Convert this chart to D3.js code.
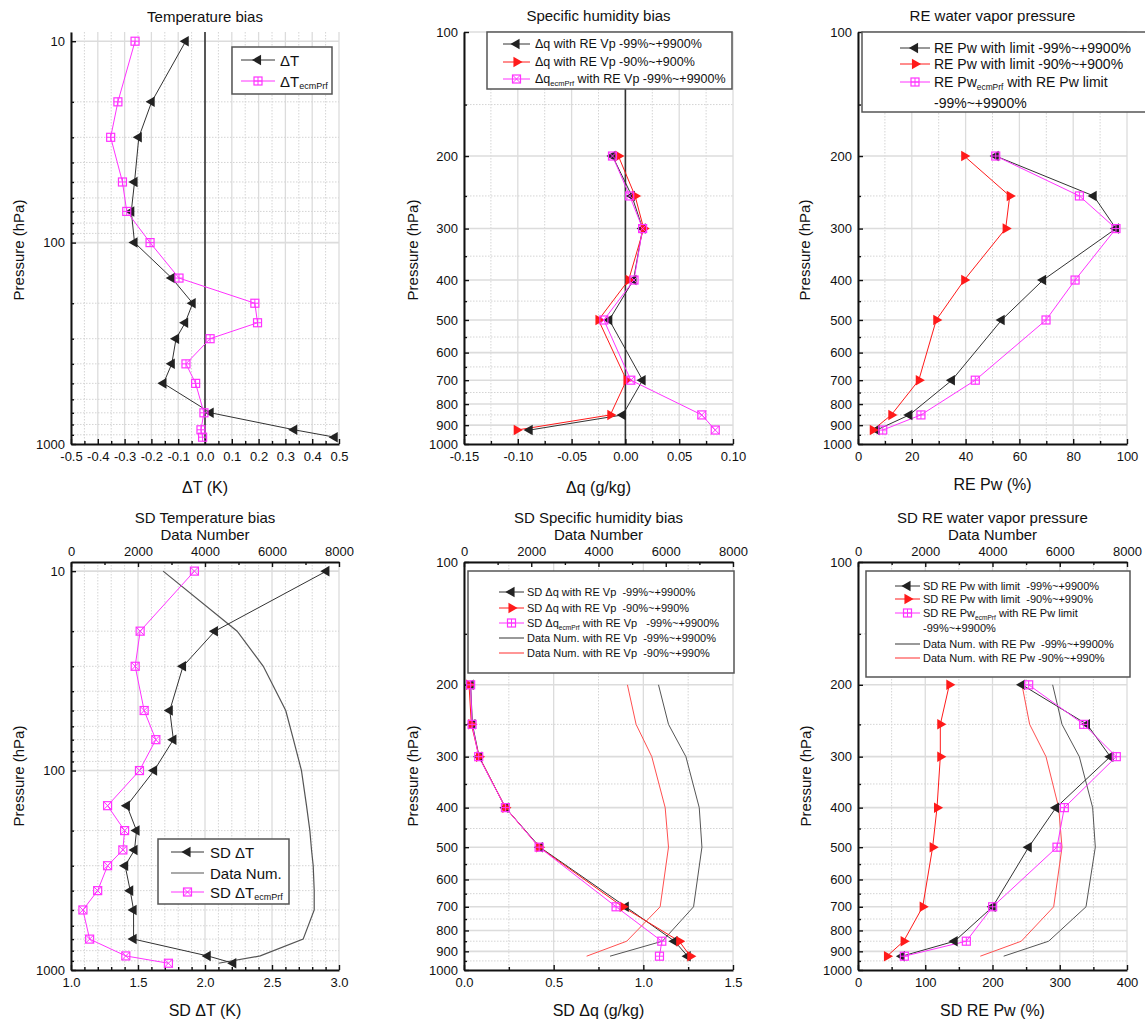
<!DOCTYPE html>
<html>
<head>
<meta charset="utf-8">
<script src="https://cdn.jsdelivr.net/npm/d3@7"></script>
<style>
body{margin:0;background:white}
svg{font-family:"Liberation Sans",Arial,sans-serif}
</style>
</head>
<body>
<svg width="1145" height="1029"></svg>
<script>
// pressure levels (hPa)
var levT = [10,20,30,50,70,100,150,200,250,300,400,500,700,850,925]
var levQ = [200,250,300,400,500,700,850,925]

// top row: biases
var dT    = [-0.072,-0.199,-0.247,-0.263,-0.275,-0.263,-0.124,-0.046,-0.074,-0.108,-0.124,-0.155,0.021,0.333,0.484]
var dTecm = [-0.261,-0.325,-0.352,-0.308,-0.292,-0.205,-0.097,0.186,0.196,0.019,-0.071,-0.035,-0.004,-0.015,-0.009]

var dq99  = [-0.012,0.006,0.016,0.0075,-0.015,0.016,-0.0025,-0.089]
var dq90  = [-0.0065,0.009,0.017,0.003,-0.025,0.001,-0.014,-0.101]
var dqEcm = [-0.012,0.004,0.016,0.008,-0.020,0.005,0.071,0.0835]

var pw99  = [51.2,87.6,95.9,68.8,53.4,34.9,19.1,6.9]
var pw90  = [39.5,56.4,54.9,39.5,29.1,22.6,12.4,5.5]
var pwEcm = [51.2,82.3,95.9,80.7,69.9,43.6,23.4,9.2]

// bottom row: standard deviations + data numbers
var sdT    = [2.906,2.074,1.836,1.737,1.764,1.620,1.417,1.489,1.474,1.404,1.442,1.467,1.467,2.020,2.211]
var sdTecm = [1.921,1.516,1.479,1.546,1.633,1.511,1.273,1.400,1.387,1.273,1.199,1.089,1.139,1.409,1.727]
var numT   = [2750,4960,5740,6410,6640,6880,7030,7130,7180,7230,7260,7260,6930,5650,4400]

var sdq99  = [0.037,0.047,0.084,0.231,0.423,0.902,1.174,1.247]
var sdq90  = [0.028,0.041,0.084,0.231,0.419,0.885,1.200,1.262]
var sdqEcm = [0.037,0.045,0.082,0.231,0.419,0.848,1.103,1.090]
var numQ99 = [5784,6082,6599,6996,7076,6827,5900,4343]
var numQ90 = [4860,5118,5585,5983,6082,5833,4840,3647]

var sdPw99  = [243.9,340.5,375.2,294.4,253.8,200.2,143.7,65.4]
var sdPw90  = [135.8,122.4,122.4,117.5,111.0,96.2,67.9,43.1]
var sdPwEcm = [253.8,335.6,384.1,306.8,295.9,200.2,161.1,68.9]
var numPw99 = [5789,6067,6582,6979,7058,6781,5670,4332]
var numPw90 = [4877,5105,5591,5968,6067,5819,4857,3638]

// tick labels
var xTickA = [-0.5,-0.4,-0.3,-0.2,-0.1,0,0.1,0.2,0.3,0.4,0.5]
var xTickB = [-0.15,-0.10,-0.05,0,0.05,0.10]
var xTickC = [0,20,40,60,80,100]
var xTickD = [1.0,1.5,2.0,2.5,3.0]
var xTickE = [0,0.5,1.0,1.5]
var xTickF = [0,100,200,300,400]
var numTicks = [0,2000,4000,6000,8000]
var yTickLong = [10,100,1000]
var yTickShort = [100,200,300,400,500,600,700,800,900,1000]

var svg = d3.select("svg")

var BLACK = "#222", RED = "#ff1a1a", PINK = "#ff33ff"

var logMinor = function(lo, hi) {
    var out = []
    ;[10,100].forEach(function(dec){
        for (var k = 2; k <= 9; k++) { var v = k*dec; if (v > lo && v < hi) out.push(v) }
    })
    return out
}
var halfMinor = d3.range(150, 1000, 100)

var stepList = function(a, b, s) {
    var out = []
    var n = Math.round((b-a)/s)
    for (var i = 0; i <= n; i++) out.push(+(a + i*s).toFixed(6))
    return out
}

var richText = function(t, str, fs) {
    var parts = str.split(/_\{|\}/)
    parts.forEach(function(s, i){
        if (s === "") return
        var ts = t.append("tspan").text(s)
        if (i % 2 == 1) ts.attr("font-size", fs*0.6).attr("dy", fs*0.35)
        else if (i > 0) ts.attr("dy", -fs*0.35)
    })
}

var drawMarker = function(g, type, cx, cy, color) {
    if (type == "left" || type == "right") {
        g.append("path")
         .attr("d", d3.symbol(d3.symbolTriangle, 48)())
         .attr("transform", "translate("+cx+","+cy+") rotate("+(type=="left" ? -90 : 90)+")")
         .attr("fill", color)
    }
    else if (type == "plus" || type == "cross") {
        var s = 4
        g.append("rect").attr("x", cx-s).attr("y", cy-s).attr("width", 2*s).attr("height", 2*s)
         .attr("fill", "none").attr("stroke", color).attr("stroke-width", 1.2)
        var segs = type == "plus" ? [[cx-s,cy,cx+s,cy],[cx,cy-s,cx,cy+s]] : [[cx-s,cy-s,cx+s,cy+s],[cx-s,cy+s,cx+s,cy-s]]
        segs.forEach(function(q){
            g.append("line").attr("x1",q[0]).attr("y1",q[1]).attr("x2",q[2]).attr("y2",q[3])
             .attr("stroke", color).attr("stroke-width", 1)
        })
    }
}

var drawPanel = function(p)
{
    var g = svg.append("g")
    var x = d3.scaleLinear().domain(p.xDom).range([p.left, p.right])
    var y = d3.scaleLog().domain(p.yDom).range([p.top, p.bottom])
    var xTop = d3.scaleLinear().domain([0,8000]).range([p.left, p.right])

    // grid
    var grid = g.append("g")
    grid.selectAll(".gvm").data(p.xMinor).enter().append("line")
        .attr("x1", function(d){return x(d)}).attr("x2", function(d){return x(d)})
        .attr("y1", p.top).attr("y2", p.bottom)
        .attr("stroke", "#d4d4d4").attr("stroke-dasharray", "1.5,1.5")
    grid.selectAll(".gvM").data(p.xTicks).enter().append("line")
        .attr("x1", function(d){return x(d)}).attr("x2", function(d){return x(d)})
        .attr("y1", p.top).attr("y2", p.bottom)
        .attr("stroke", "#dcdcdc").attr("stroke-width", 1.3)
    grid.selectAll(".ghm").data(p.yMinor).enter().append("line")
        .attr("y1", function(d){return y(d)}).attr("y2", function(d){return y(d)})
        .attr("x1", p.left).attr("x2", p.right)
        .attr("stroke", "#d4d4d4").attr("stroke-dasharray", "1.5,1.5")
    grid.selectAll(".ghM").data(p.yTicks.slice(0, -1)).enter().append("line")
        .attr("y1", function(d){return y(d)}).attr("y2", function(d){return y(d)})
        .attr("x1", p.left).attr("x2", p.right)
        .attr("stroke", "#dcdcdc").attr("stroke-width", 1.6)

    if (p.zeroLine) {
        g.append("line").attr("x1", x(0)).attr("x2", x(0)).attr("y1", p.top).attr("y2", p.bottom)
         .attr("stroke", "#333").attr("stroke-width", 1.6)
    }

    // axes
    var ax = g.append("g").attr("transform", "translate(0,"+p.bottom+")")
        .call(d3.axisBottom(x).tickValues(p.xTicks).tickFormat(p.xFmt).tickSizeInner(-5).tickSizeOuter(0).tickPadding(8))
    g.append("g").attr("transform", "translate(0,"+p.bottom+")")
        .call(d3.axisBottom(x).tickValues(p.xMinor).tickFormat("").tickSizeInner(-3).tickSizeOuter(0))
        .select(".domain").remove()
    var ay = g.append("g").attr("transform", "translate("+p.left+",0)")
        .call(d3.axisLeft(y).tickValues(p.yTicks).tickFormat(d3.format("d")).tickSizeInner(-5).tickSizeOuter(0).tickPadding(6))
    g.append("g").attr("transform", "translate("+p.left+",0)")
        .call(d3.axisLeft(y).tickValues(p.yMinor).tickFormat("").tickSizeInner(-3).tickSizeOuter(0))
        .select(".domain").remove()
    if (p.topAxis) {
        g.append("g").attr("transform", "translate(0,"+p.top+")")
         .call(d3.axisTop(xTop).tickValues(numTicks).tickFormat(d3.format("d")).tickSizeInner(-5).tickSizeOuter(0).tickPadding(6))
        g.append("g").attr("transform", "translate(0,"+p.top+")")
         .call(d3.axisTop(xTop).tickValues([1000,3000,5000,7000]).tickFormat("").tickSizeInner(-3).tickSizeOuter(0))
         .select(".domain").remove()
    }
    g.selectAll(".domain").attr("stroke", "#111").attr("stroke-width", 2)
    g.selectAll(".tick line").attr("stroke", "#111").attr("stroke-width", 1.4)
    g.selectAll(".tick text").attr("font-size", 13).attr("fill", "#111").attr("font-family", "Liberation Sans, Arial, sans-serif")

    // series lines then markers
    p.series.forEach(function(s){
        var xs = s.top ? xTop : x
        var line = d3.line()
            .x(function(v){return xs(v)})
            .y(function(v,i){return y(s.lev[i])})
        g.append("path").datum(s.vals)
         .attr("d", line).attr("fill", "none")
         .attr("stroke", s.lineColor).attr("stroke-width", s.width || 1)
    })
    p.series.forEach(function(s){
        if (!s.marker) return
        var mg = g.append("g")
        s.vals.forEach(function(v,i){ drawMarker(mg, s.marker, x(v), y(s.lev[i]), s.color) })
    })

    // titles
    p.title.forEach(function(t, i){
        svg.append("text").attr("x", (p.left+p.right)/2 + (p.titleDx || 0)).attr("y", p.titleY + i*17)
           .attr("text-anchor", "middle").attr("dominant-baseline", "central")
           .attr("font-size", 15).attr("fill", "#111").text(t)
    })
    var xl = svg.append("text").attr("x", (p.left+p.right)/2 + (p.titleDx || 0)).attr("y", p.xLabelY)
        .attr("text-anchor", "middle").attr("dominant-baseline", "central")
        .attr("font-size", 16).attr("fill", "#111")
    richText(xl, p.xLabel, 16)
    svg.append("text").attr("transform", "translate("+p.yLabelX+","+((p.top+p.bottom)/2+ (p.yLabelDy||0))+") rotate(-90)")
        .attr("text-anchor", "middle").attr("dominant-baseline", "central")
        .attr("font-size", 15).attr("fill", "#111").text("Pressure (hPa)")

    // legend
    var L = p.legend
    var lg = svg.append("g")
    lg.append("rect").attr("x", L.x).attr("y", L.y).attr("width", L.w).attr("height", L.h)
      .attr("fill", "white").attr("stroke", "#555").attr("stroke-width", 1.5)
    L.items.forEach(function(it, i){
        var yy = L.rows[i]
        if (it.color) {
            lg.append("line").attr("x1", L.sx1).attr("x2", L.sx2).attr("y1", yy).attr("y2", yy)
              .attr("stroke", it.color).attr("stroke-width", it.marker ? 1 : 1.2)
            if (it.marker) drawMarker(lg, it.marker, (L.sx1+L.sx2)/2, yy, it.mcolor || it.color)
        }
        var t = lg.append("text").attr("x", L.tx).attr("y", yy)
            .attr("dominant-baseline", "central").attr("font-size", L.fs)
            .attr("fill", "#111").style("white-space", "pre")
        richText(t, it.label, L.fs)
    })
}

var fmt1 = function(d){return d.toFixed(1)}
var fmt2 = function(d){return d.toFixed(2)}
var fmt0 = function(d){return d.toFixed(0)}

var panels = [
  {left:71, right:339, top:32, bottom:444, xDom:[-0.5,0.5], yDom:[9,1000],
   xTicks:xTickA, xMinor:stepList(-0.45,0.45,0.1), xFmt:fmt1,
   yTicks:yTickLong, yMinor:logMinor(9,1000), zeroLine:true,
   title:["Temperature bias"], titleY:16, xLabel:"ΔT (K)", xLabelY:487, yLabelX:18, yLabelDy:12,
   series:[
     {vals:dT, lev:levT, lineColor:"#333", color:BLACK, marker:"left"},
     {vals:dTecm, lev:levT, lineColor:PINK, color:PINK, marker:"plus"}],
   legend:{x:232, y:47, w:100, h:47, rows:[60,81], sx1:241, sx2:275, tx:280, fs:15,
     items:[{label:"ΔT", color:"#333", mcolor:BLACK, marker:"left"},
            {label:"ΔT_{ecmPrf}", color:PINK, marker:"plus"}]}},
  {left:464, right:733, top:32, bottom:444, xDom:[-0.15,0.10], yDom:[100,1000],
   xTicks:xTickB, xMinor:stepList(-0.125,0.075,0.05), xFmt:fmt2,
   yTicks:yTickShort, yMinor:halfMinor, zeroLine:true,
   title:["Specific humidity bias"], titleY:15, xLabel:"Δq (g/kg)", xLabelY:487, yLabelX:412, yLabelDy:12,
   series:[
     {vals:dq99, lev:levQ, lineColor:"#333", color:BLACK, marker:"left"},
     {vals:dq90, lev:levQ, lineColor:RED, color:RED, marker:"right"},
     {vals:dqEcm, lev:levQ, lineColor:PINK, color:PINK, marker:"cross"}],
   legend:{x:487, y:32, w:245, h:57, rows:[44,62,79], sx1:503, sx2:530, tx:535, fs:12.5,
     items:[{label:"Δq with RE Vp -99%~+9900%", color:"#333", mcolor:BLACK, marker:"left"},
            {label:"Δq with RE Vp -90%~+900%", color:RED, marker:"right"},
            {label:"Δq_{ecmPrf} with RE Vp -99%~+9900%", color:PINK, marker:"cross"}]}},
  {left:858, right:1127, top:32, bottom:444, xDom:[0,100], yDom:[100,1000],
   xTicks:xTickC, xMinor:stepList(10,90,20), xFmt:fmt0,
   yTicks:yTickShort, yMinor:halfMinor, zeroLine:false,
   title:["RE water vapor pressure"], titleY:15, xLabel:"RE Pw (%)", xLabelY:484, yLabelX:804, yLabelDy:12,
   series:[
     {vals:pw99, lev:levQ, lineColor:"#333", color:BLACK, marker:"left"},
     {vals:pw90, lev:levQ, lineColor:RED, color:RED, marker:"right"},
     {vals:pwEcm, lev:levQ, lineColor:PINK, color:PINK, marker:"plus"}],
   legend:{x:862, y:32, w:290, h:80, rows:[48,64,82,103], sx1:900, sx2:930, tx:934, fs:14,
     items:[{label:"RE Pw with limit -99%~+9900%", color:"#333", mcolor:BLACK, marker:"left"},
            {label:"RE Pw with limit -90%~+900%", color:RED, marker:"right"},
            {label:"RE Pw_{ecmPrf} with RE Pw limit", color:PINK, marker:"plus"},
            {label:"-99%~+9900%"}]}},
  {left:71, right:339, top:562, bottom:970, xDom:[1,3], yDom:[9,1000], topAxis:true,
   xTicks:xTickD, xMinor:[1.1,1.2,1.3,1.4,1.6,1.7,1.8,1.9,2.1,2.2,2.3,2.4,2.6,2.7,2.8,2.9], xFmt:fmt1,
   yTicks:yTickLong, yMinor:logMinor(9,1000),
   title:["SD Temperature bias","Data Number"], titleY:517, xLabel:"SD ΔT (K)", xLabelY:1010, yLabelX:18, yLabelDy:10,
   series:[
     {vals:numT, lev:levT, lineColor:"#555", top:true, width:1.2},
     {vals:sdT, lev:levT, lineColor:"#333", color:BLACK, marker:"left"},
     {vals:sdTecm, lev:levT, lineColor:PINK, color:PINK, marker:"cross"}],
   legend:{x:158, y:839, w:131, h:65, rows:[852,873,892], sx1:171, sx2:204, tx:210, fs:15,
     items:[{label:"SD ΔT", color:"#333", mcolor:BLACK, marker:"left"},
            {label:"Data Num.", color:"#555"},
            {label:"SD ΔT_{ecmPrf}", color:PINK, marker:"cross"}]}},
  {left:464, right:733, top:562, bottom:970, xDom:[0,1.5], yDom:[100,1000], topAxis:true,
   xTicks:xTickE, xMinor:[0.25,0.75,1.25], xFmt:fmt1,
   yTicks:yTickShort, yMinor:halfMinor,
   title:["SD Specific humidity bias","Data Number"], titleY:517, xLabel:"SD Δq (g/kg)", xLabelY:1010, yLabelX:412, yLabelDy:10,
   series:[
     {vals:numQ99, lev:levQ, lineColor:"#555", top:true},
     {vals:numQ90, lev:levQ, lineColor:"#ff5050", top:true},
     {vals:sdq99, lev:levQ, lineColor:"#333", color:BLACK, marker:"left"},
     {vals:sdq90, lev:levQ, lineColor:RED, color:RED, marker:"right"},
     {vals:sdqEcm, lev:levQ, lineColor:PINK, color:PINK, marker:"plus"}],
   legend:{x:468, y:571, w:266, h:102, rows:[592,608,623,638,653], sx1:499, sx2:524, tx:527, fs:11,
     items:[{label:"SD Δq with RE Vp  -99%~+9900%", color:"#333", mcolor:BLACK, marker:"left"},
            {label:"SD Δq with RE Vp  -90%~+990%", color:RED, marker:"right"},
            {label:"SD Δq_{ecmPrf} with RE Vp   -99%~+9900%", color:PINK, marker:"plus"},
            {label:"Data Num. with RE Vp  -99%~+9900%", color:"#555"},
            {label:"Data Num. with RE Vp  -90%~+990%", color:"#ff5050"}]}},
  {left:858, right:1127, top:562, bottom:970, xDom:[0,400], yDom:[100,1000], topAxis:true,
   xTicks:xTickF, xMinor:[50,150,250,350], xFmt:fmt0,
   yTicks:yTickShort, yMinor:halfMinor,
   title:["SD RE water vapor pressure","Data Number"], titleY:517, xLabel:"SD RE Pw (%)", xLabelY:1010, yLabelX:805, yLabelDy:10,
   series:[
     {vals:numPw99, lev:levQ, lineColor:"#555", top:true},
     {vals:numPw90, lev:levQ, lineColor:"#ff5050", top:true},
     {vals:sdPw99, lev:levQ, lineColor:"#333", color:BLACK, marker:"left"},
     {vals:sdPw90, lev:levQ, lineColor:RED, color:RED, marker:"right"},
     {vals:sdPwEcm, lev:levQ, lineColor:PINK, color:PINK, marker:"plus"}],
   legend:{x:866, y:571, w:264, h:106, rows:[586,599,613,628,644,658], sx1:895, sx2:920, tx:923, fs:11,
     items:[{label:"SD RE Pw with limit  -99%~+9900%", color:"#333", mcolor:BLACK, marker:"left"},
            {label:"SD RE Pw with limit  -90%~+990%", color:RED, marker:"right"},
            {label:"SD RE Pw_{ecmPrf} with RE Pw limit", color:PINK, marker:"plus"},
            {label:"-99%~+9900%"},
            {label:"Data Num. with RE Pw  -99%~+9900%", color:"#555"},
            {label:"Data Num. with RE Pw -90%~+990%", color:"#ff5050"}]}}
]

panels.forEach(drawPanel)
</script>
</body>
</html>
